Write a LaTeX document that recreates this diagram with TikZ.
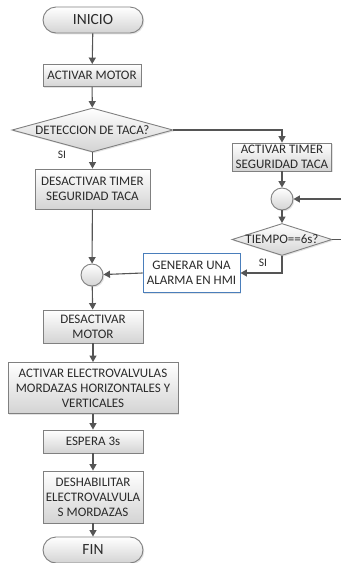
\documentclass[tikz,border=0pt]{standalone}
\usepackage{fontspec}
\setmainfont{Carlito}
\usetikzlibrary{shapes.geometric,shapes.misc,arrows.meta,shadows}
\definecolor{lnc}{HTML}{555555}
\definecolor{bdc}{HTML}{808080}
\definecolor{txc}{HTML}{2A2A2A}
\definecolor{blc}{HTML}{4A7EBB}
\begin{document}
\begin{tikzpicture}[x=1pt,y=-1pt,
  base/.style={draw=bdc, line width=0.9pt, top color=white, bottom color=black!17,
    drop shadow={opacity=0.22,shadow xshift=1.3pt,shadow yshift=-1.3pt},
    text=txc, font=\fontsize{13}{15}\selectfont, align=center, inner sep=0pt},
  proc/.style={base, rectangle},
  term/.style={base, rounded rectangle, font=\fontsize{15.5}{17}\selectfont},
  decision/.style={base, diamond},
  junc/.style={base, circle, minimum size=22pt},
  txt/.style={text=txc, font=\fontsize{13}{15}\selectfont, align=center, inner sep=0pt},
  lbl/.style={text=txc, font=\fontsize{11.5}{13}\selectfont, inner sep=0pt},
  arr/.style={draw=lnc, line width=1.1pt, -{Triangle[length=6.5pt,width=7pt]}},
  conn/.style={draw=lnc, line width=1.1pt}]
\useasboundingbox (0,0) rectangle (341,563);

\node[term, minimum width=100pt, minimum height=26pt] (inicio) at (93,20) {INICIO};
\node[proc, minimum width=98pt, minimum height=22pt] (actmotor) at (92,75.5) {ACTIVAR MOTOR};
\node[decision, minimum width=161pt, minimum height=44pt] (det) at (92.5,130) {};
\node[txt] (dettxt) at (det.center) {DETECCION DE TACA?};
\node[proc, minimum width=115pt, minimum height=40pt] (destimer) at (92.5,189) {DESACTIVAR TIMER\\SEGURIDAD TACA};
\node[proc, minimum width=99pt, minimum height=28pt] (acttimer) at (282,157) {ACTIVAR TIMER\\SEGURIDAD TACA};
\node[junc] (c1) at (282,199) {};
\node[decision, minimum width=100pt, minimum height=32pt] (tiempo) at (282,239.5) {};
\node[txt] (tiempotxt) at (tiempo.center) {TIEMPO==6s?};
\node[proc, draw=blc, top color=white, bottom color=white, minimum width=97pt, minimum height=39pt] (generar) at (191.5,273) {GENERAR UNA\\ALARMA EN HMI};
\node[junc] (c2) at (92,275) {};
\node[proc, minimum width=100pt, minimum height=33pt] (desmotor) at (93,326.5) {DESACTIVAR\\MOTOR};
\node[proc, minimum width=170pt, minimum height=51pt] (actelec) at (93,388) {ACTIVAR ELECTROVALVULAS\\MORDAZAS HORIZONTALES Y\\VERTICALES};
\node[proc, minimum width=100pt, minimum height=23pt] (espera) at (93,441.5) {ESPERA 3s};
\node[proc, minimum width=100pt, minimum height=52pt] (deshab) at (93,497) {DESHABILITAR\\ELECTROVALVULA\\S MORDAZAS};
\node[term, minimum width=100pt, minimum height=26pt] (fin) at (93,550) {FIN};

\node[lbl] (si1) at (62,155) {SI};
\node[lbl] (si2) at (263,263) {SI};

\coordinate (inR) at (341,199);
\coordinate (outR) at (341,239.5);

\draw[arr] (inicio) -- (actmotor);
\draw[arr] (actmotor) -- (det);
\draw[arr] (det) -- (destimer);
\draw[arr] (det.east) -| (acttimer.north);
\draw[arr] (acttimer) -- (c1);
\draw[arr] (inR) -- (c1);
\draw[arr] (c1) -- (tiempo);
\draw[conn] (tiempo.east) -- (outR);
\draw[arr] (tiempo.south) |- (generar.east);
\draw[arr] (generar.west) -- (c2);
\draw[arr] (destimer) -- (c2);
\draw[arr] (c2) -- (desmotor);
\draw[arr] (desmotor) -- (actelec);
\draw[arr] (actelec) -- (espera);
\draw[arr] (espera) -- (deshab);
\draw[arr] (deshab) -- (fin);
\end{tikzpicture}
\end{document}
